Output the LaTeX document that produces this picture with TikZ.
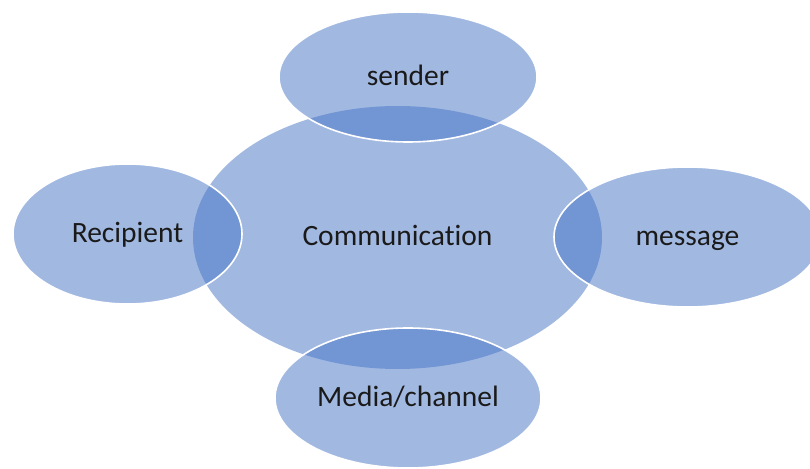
\documentclass[tikz,border=0pt]{standalone}
\usepackage{fontspec}
\setmainfont{Carlito}[Ligatures={NoCommon}]
\usetikzlibrary{shapes.geometric}
\definecolor{accentblue}{HTML}{4472C4}
\definecolor{txt}{HTML}{1A1A1A}
\begin{document}
\begin{tikzpicture}[x=1bp,y=-1bp,
  bubble/.style={ellipse, inner sep=0pt, fill=accentblue, fill opacity=0.5,
    text opacity=1, text=txt, text height=23bp, text depth=6bp,
    font=\fontsize{29.5bp}{35bp}\selectfont},
  satellite/.style={bubble, draw=white, draw opacity=1, line width=1.6bp}]
\useasboundingbox (0,0) rectangle (810,469);
\clip (0,0) rectangle (810,469);
\node[bubble, minimum width=409bp, minimum height=263bp] (comm) at (397.5,237.5) {Communication};
\node[satellite, minimum width=258bp, minimum height=130bp] (sender) at (408,77) {sender};
\node[satellite, minimum width=267bp, minimum height=140bp] (message) at (687.5,237) {message};
\node[satellite, minimum width=229bp, minimum height=140bp] (recipient) at (127.5,234) {Recipient};
\node[satellite, minimum width=266bp, minimum height=140bp] (media) at (408,398) {Media/channel};
\end{tikzpicture}
\end{document}
